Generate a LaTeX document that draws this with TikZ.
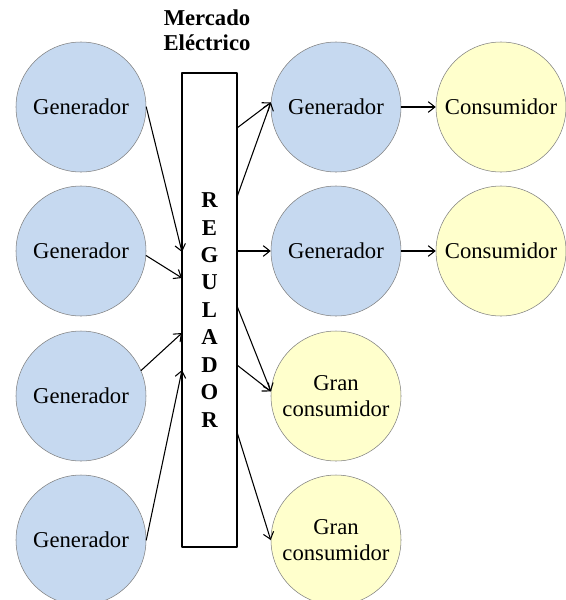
\documentclass[tikz,border=0pt]{standalone}
\usepackage{fontspec}
\setmainfont{Liberation Serif}
\usetikzlibrary{arrows.meta}
\definecolor{genblue}{HTML}{C6D9F0}
\definecolor{consyellow}{HTML}{FFFFCC}
\definecolor{rimgray}{HTML}{808080}

\begin{document}
\begin{tikzpicture}[x=.75pt,y=-.75pt,>={Straight Barb[length=5pt,width=8pt]},
  line cap=round,line join=round,
  font=\fontsize{17}{20}\selectfont,
  gen/.style={circle,draw=rimgray,fill=genblue,minimum size=97.5pt,inner sep=0pt,align=center},
  cons/.style={gen,fill=consyellow},
  flow/.style={->,line width=.8pt}]
\path[use as bounding box] (0,0) rectangle (566,600);

% generadores del lado izquierdo
\node[gen] (gen1) at (81,107) {Generador};
\node[gen] (gen2) at (81,251) {Generador};
\node[gen] (gen3) at (81,396) {Generador};
\node[gen] (gen4) at (81,540) {Generador};

% regulador del mercado
\node[font=\fontsize{17}{19}\selectfont\bfseries,align=center] (mercado) at (207,30) {Mercado\\Eléctrico};
\node[draw,line width=.9pt,minimum width=41.25pt,minimum height=355.5pt,inner sep=0pt,
  align=center,font=\fontsize{17}{20.6}\selectfont\bfseries] (reg) at (209.5,310)
  {R\\E\\G\\U\\L\\A\\D\\O\\R};
\coordinate (in1) at (182,252);
\coordinate (in2) at (182,278);
\coordinate (in3) at (182,333);
\coordinate (in4) at (182,370);
\coordinate (out1) at (237,128);
\coordinate (out2) at (237,197);
\coordinate (out3) at (237,251);
\coordinate (out4) at (237,306);
\coordinate (out5) at (237,365);
\coordinate (out6) at (237,432);

% lado derecho
\node[gen] (genA) at (336,107) {Generador};
\node[gen] (genB) at (336,251) {Generador};
\node[cons] (consA) at (501,107) {Consumidor};
\node[cons] (consB) at (501,251) {Consumidor};
\node[cons] (gran1) at (336,396) {Gran\\consumidor};
\node[cons] (gran2) at (336,540) {Gran\\consumidor};

% flechas
\draw[flow] (gen1.east) -- (in1);
\draw[flow] (gen2.-4) -- (in2);
\draw[flow] (gen3.23) -- (in3);
\draw[flow] (gen4.east) -- (in4);
\draw[flow] (out1) -- (genA.176);
\draw[flow] (out2) -- (genA.176);
\draw[flow] (out3) -- (genB.west);
\draw[flow] (out4) -- (gran1.176);
\draw[flow] (out5) -- (gran1.176);
\draw[flow] (out6) -- (gran2.west);
\draw[flow] (genA) -- (consA);
\draw[flow] (genB) -- (consB);
\end{tikzpicture}
\end{document}
